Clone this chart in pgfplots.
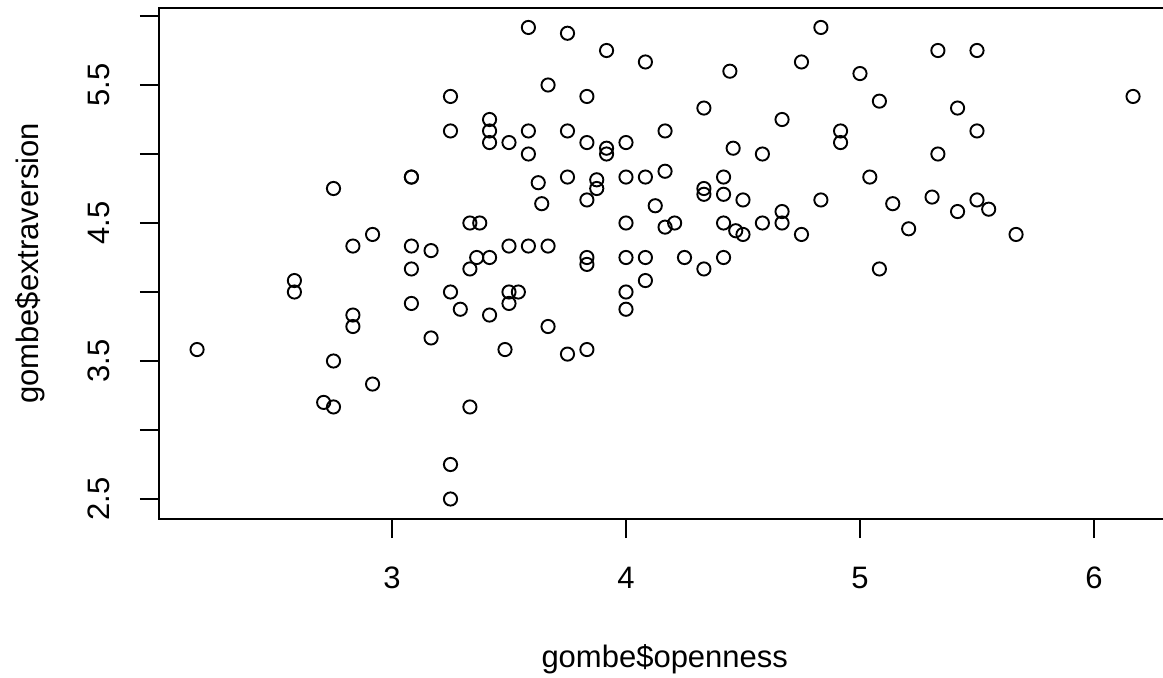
\documentclass[border=0pt]{standalone}
\usepackage{fontspec}
\setmainfont{Liberation Sans}
\usepackage{pgfplots}
\pgfplotsset{compat=1.18}

% openness vs extraversion
\pgfplotstableread{
x y
2.167 3.583
2.583 4.083
2.583 4.0
2.708 3.2
2.75 4.75
2.75 3.5
2.75 3.167
2.833 4.333
2.833 3.833
2.833 3.75
2.917 4.417
2.917 3.333
3.083 4.833
3.083 4.833
3.083 4.333
3.083 4.167
3.083 3.917
3.167 4.3
3.167 3.667
3.25 5.417
3.25 5.167
3.25 4.0
3.25 2.75
3.25 2.5
3.292 3.875
3.333 4.5
3.333 4.167
3.333 3.167
3.375 4.5
3.362 4.25
3.417 5.25
3.417 5.167
3.417 5.083
3.417 4.25
3.417 3.833
3.483 3.583
3.5 5.083
3.5 4.333
3.5 4.0
3.5 3.917
3.54 4.0
3.583 5.917
3.583 5.167
3.583 5.0
3.583 4.333
3.625 4.792
3.64 4.64
3.667 5.5
3.667 4.333
3.667 3.75
3.75 5.875
3.75 5.167
3.75 4.833
3.75 3.55
3.833 5.417
3.833 5.083
3.833 4.667
3.833 4.25
3.833 4.2
3.833 3.583
3.875 4.813
3.875 4.75
3.917 5.75
3.917 5.042
3.917 5.0
4.0 5.083
4.0 4.833
4.0 4.5
4.0 4.25
4.0 4.0
4.0 3.875
4.083 5.667
4.083 4.833
4.083 4.25
4.083 4.083
4.125 4.625
4.167 5.167
4.167 4.875
4.167 4.47
4.208 4.5
4.25 4.25
4.333 5.333
4.333 4.75
4.333 4.708
4.333 4.167
4.417 4.833
4.417 4.708
4.417 4.5
4.417 4.25
4.444 5.6
4.458 5.042
4.469 4.444
4.5 4.667
4.5 4.417
4.583 5.0
4.583 4.5
4.667 5.25
4.667 4.583
4.667 4.5
4.75 5.667
4.75 4.417
4.833 5.917
4.833 4.667
4.917 5.167
4.917 5.083
5.0 5.583
5.042 4.833
5.083 5.383
5.083 4.167
5.14 4.64
5.208 4.458
5.308 4.688
5.333 5.75
5.333 5.0
5.417 5.333
5.417 4.583
5.5 5.75
5.5 5.167
5.5 4.667
5.55 4.6
5.667 4.417
6.167 5.417
}\gombe

\begin{document}
\fontsize{15.5}{18.6}\selectfont
\begin{tikzpicture}
\path[use as bounding box] (-79.5pt,-79pt) rectangle (502pt,259.5pt);
\begin{axis}[
    at={(0,0)}, anchor=origin,
    scale only axis,
    width=505.75pt, height=255.5pt,
    xmin=2.0043, xmax=6.327,
    ymin=2.355, ymax=6.058,
    axis line style={line width=0.9pt},
    tick style={line width=0.9pt, black},
    tick align=outside,
    tick pos=left,
    major tick length=9.5pt,
    xtick={3,4,5,6},
    xticklabels={3,4,5,6},
    ytick={2.5,3,3.5,4,4.5,5,5.5,6},
    yticklabels={2.5,,3.5,,4.5,,5.5,},
    /pgf/number format/assume math mode=true,
    xticklabel style={yshift=-25pt, anchor=base, inner sep=0pt},
    yticklabel style={xshift=-15pt, rotate=90, anchor=base, inner sep=0pt},
    every axis x label/.style={at={(rel axis cs:0.5,0)}, yshift=-74pt, anchor=base},
    every axis y label/.style={at={(rel axis cs:0,0.5)}, xshift=-60pt, rotate=90, anchor=base},
    xlabel={gombe\$openness},
    ylabel={gombe\$extraversion},
    clip=false,
]
\addplot[only marks, mark=o, mark size=3.3pt, mark options={line width=0.95pt, black}]
    table[x=x, y=y] {\gombe};
\end{axis}
\end{tikzpicture}
\end{document}
